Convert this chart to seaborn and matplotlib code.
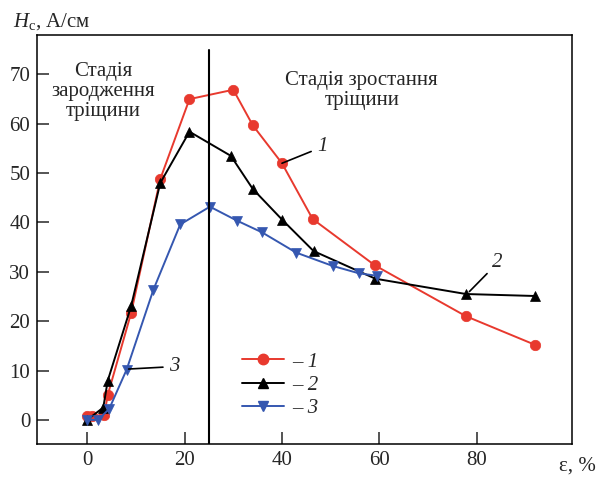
import matplotlib
matplotlib.use("Agg")
import matplotlib.pyplot as plt
import seaborn as sns
import pandas as pd
from matplotlib.lines import Line2D

# ---- data ----
x1 = [0, 1, 3.5, 4.2, 9, 15, 21, 30, 34, 40, 46.3, 59.1, 77.8, 92]
y1 = [0.8, 0.8, 1.0, 5.0, 21.6, 48.8, 65.0, 66.9, 59.7, 52.0, 40.7, 31.3, 21.0, 15.2]
x2 = [0, 3.3, 4.2, 9, 15, 21, 29.5, 34, 40, 46.5, 59.2, 77.8, 92]
y2 = [0, 2.5, 7.9, 23.0, 48.0, 58.4, 53.5, 46.8, 40.6, 34.2, 28.6, 25.5, 25.1]
x3 = [0, 2.2, 4.5, 8.1, 13.6, 19.1, 25.2, 30.7, 35.9, 42.9, 50.4, 55.8, 59.5]
y3 = [0, 0, 2.2, 10.2, 26.4, 39.6, 43.2, 40.4, 38.0, 33.9, 31.2, 29.7, 29.2]
series_names = ["1", "2", "3"]
x_ticks = [0, 20, 40, 60, 80]
y_ticks = [0, 10, 20, 30, 40, 50, 60, 70]
stage_boundary = 25

sns.set_theme(style="white")
plt.rcParams["font.family"] = ["Liberation Serif", "DejaVu Serif"]
plt.rcParams["mathtext.fontset"] = "custom"
plt.rcParams["mathtext.it"] = "Liberation Serif:italic"
plt.rcParams["mathtext.rm"] = "Liberation Serif"

FS = 15

fig = plt.figure(figsize=(6.08, 4.79), dpi=100)
ax = fig.add_axes([0.061, 0.073, 0.880, 0.854])

colors = ["#e8392e", "#000000", "#3557b0"]
markers = ["o", "^", "v"]
xs = [x1, x2, x3]
ys = [y1, y2, y3]
handles = []
for xv, yv, c, m, n in zip(xs, ys, colors, markers, series_names):
    df = pd.DataFrame({"x": xv, "y": yv})
    sns.lineplot(data=df, x="x", y="y", ax=ax, color=c, marker=m,
                 markersize=7.5, markeredgewidth=0.5, markeredgecolor=c,
                 linewidth=1.4, sort=False, estimator=None)
    handles.append(Line2D([], [], color=c, marker=m, markersize=7.5,
                          markeredgecolor=c, linewidth=1.4))

ax.plot([stage_boundary, stage_boundary], [-5, 75], color="black", lw=1.5)

ax.set_xlim(-10.3, 99.6)
ax.set_ylim(-4.9, 78)
ax.set_xticks(x_ticks)
ax.set_yticks(y_ticks)
ax.set_xlabel("")
ax.set_ylabel("")
ax.tick_params(direction="in", length=8.5, width=1.1, labelsize=FS,
               left=True, bottom=True, top=False, right=False, pad=5)
for s in ax.spines.values():
    s.set_linewidth(1.1)
    s.set_color("black")

leg = ax.legend(handles, ["– " + n for n in series_names], frameon=False,
                loc="upper left", bbox_to_anchor=(0.368, 0.245),
                handlelength=2.0, labelspacing=0.17, handletextpad=0.4,
                borderaxespad=0.0, prop={"size": FS, "style": "italic"})

# annotations for curves
ax.annotate("1", xy=(40, 52), xytext=(47.2, 55.3), fontsize=FS, style="italic",
            va="center", ha="left",
            arrowprops=dict(arrowstyle="-", color="black", lw=1.2, shrinkA=2, shrinkB=0))
ax.annotate("2", xy=(78.5, 26), xytext=(83.2, 31.8), fontsize=FS, style="italic",
            va="center", ha="left",
            arrowprops=dict(arrowstyle="-", color="black", lw=1.2, shrinkA=2, shrinkB=0))
ax.annotate("3", xy=(8.5, 10.3), xytext=(16.8, 10.8), fontsize=FS, style="italic",
            va="center", ha="left",
            arrowprops=dict(arrowstyle="-", color="black", lw=1.2, shrinkA=2, shrinkB=0))

ax.text(3.3, 72.5, "Стадія\nзародження\nтріщини", ha="center", va="top",
        fontsize=FS, linespacing=1.05)
ax.text(56.4, 70.7, "Стадія зростання\nтріщини", ha="center", va="top",
        fontsize=FS, linespacing=1.05)

fig.text(0.022, 0.956, r"$H_{\rm c}$, А/см", fontsize=FS, ha="left", va="center")
fig.text(0.98, 0.028, "ε, %", fontsize=FS, ha="right", va="center")

fig.savefig("out.png", dpi=100)
